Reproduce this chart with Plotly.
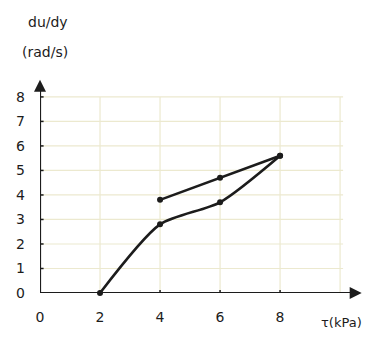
import plotly.graph_objects as go

# Data
load_x = [2, 4, 6, 8]
load_y = [0, 2.8, 3.7, 5.6]
unload_x = [4, 6, 8]
unload_y = [3.8, 4.7, 5.6]
x_ticks = [0, 2, 4, 6, 8]
x_tick_text = ["0", "2", "4", "6", "8"]
y_ticks = [0, 1, 2, 3, 4, 5, 6, 7, 8]
grid_x = [2, 4, 6, 8, 10]
grid_y = [1, 2, 3, 4, 5, 6, 7, 8]

GRID = "#ece9cf"
INK = "#1c1c1c"
FONT = "DejaVu Sans"

# plot-area pixel box (for placing margin labels)
PL, PR, PT, PB = 40, 362, 80, 293


def px_to_paper(px, py):
    return (px - PL) / (PR - PL), (PB - py) / (PB - PT)


fig = go.Figure()
fig.add_trace(go.Scatter(x=load_x, y=load_y, mode="lines+markers",
                         line=dict(color=INK, width=2.6, shape="spline", smoothing=0.7),
                         marker=dict(color=INK, size=6), cliponaxis=False, showlegend=False))
fig.add_trace(go.Scatter(x=unload_x, y=unload_y, mode="lines+markers",
                         line=dict(color=INK, width=2.6),
                         marker=dict(color=INK, size=6), cliponaxis=False, showlegend=False))

shapes = []
for gx in grid_x:
    shapes.append(dict(type="line", xref="x", yref="y", x0=gx, x1=gx, y0=0, y1=8,
                       line=dict(color=GRID, width=1.2), layer="below"))
for gy in grid_y:
    shapes.append(dict(type="line", xref="x", yref="y", x0=0, x1=10.1, y0=gy, y1=gy,
                       line=dict(color=GRID, width=1.2), layer="below"))
# axes
shapes.append(dict(type="line", xref="x", yref="y", x0=0, x1=0, y0=0, y1=8.4,
                   line=dict(color=INK, width=2.2)))
shapes.append(dict(type="line", xref="x", yref="y", x0=-0.1, x1=10.5, y0=0, y1=0,
                   line=dict(color=INK, width=2.2)))
# small tick marks
for ty in y_ticks:
    shapes.append(dict(type="line", xref="x", yref="y", x0=-0.12, x1=0.12, y0=ty, y1=ty,
                       line=dict(color=INK, width=1.5)))
for tx in x_ticks[1:]:
    shapes.append(dict(type="line", xref="x", yref="y", x0=tx, x1=tx, y0=-0.12, y1=0.12,
                       line=dict(color=INK, width=1.5)))

arrows = [
    dict(x=0, y=8.7, ax=0, ay=8.2, xref="x", yref="y", axref="x", ayref="y",
         showarrow=True, arrowhead=2, arrowsize=1.2, arrowwidth=2, arrowcolor=INK, text=""),
    dict(x=10.72, y=0, ax=10.3, ay=0, xref="x", yref="y", axref="x", ayref="y",
         showarrow=True, arrowhead=2, arrowsize=1.2, arrowwidth=2, arrowcolor=INK, text=""),
]

x1, y1 = px_to_paper(48, 22)
x2, y2 = px_to_paper(45, 52)
x3, y3 = px_to_paper(364, 322)
labels = [
    dict(x=x1, y=y1, xref="paper", yref="paper", text="du/dy", showarrow=False,
         xanchor="center", yanchor="middle", font=dict(size=14)),
    dict(x=x2, y=y2, xref="paper", yref="paper", text="(rad/s)", showarrow=False,
         xanchor="center", yanchor="middle", font=dict(size=14)),
    dict(x=x3, y=y3, xref="paper", yref="paper", text="τ(kPa)", showarrow=False,
         xanchor="right", yanchor="middle", font=dict(size=13)),
]

fig.update_layout(
    width=365, height=338,
    margin=dict(l=PL, r=365 - PR, t=PT, b=338 - PB),
    paper_bgcolor="white", plot_bgcolor="white",
    font=dict(family=FONT, size=13, color=INK),
    shapes=shapes,
    annotations=arrows + labels,
    xaxis=dict(range=[0, 10.73], showgrid=False, zeroline=False, showline=False,
               tickmode="array", tickvals=x_ticks, ticktext=x_tick_text,
               ticks="", ticklabelstandoff=14, tickfont=dict(size=14, family=FONT, color=INK)),
    yaxis=dict(range=[0, 8.69], showgrid=False, zeroline=False, showline=False,
               tickmode="array", tickvals=y_ticks,
               ticks="", ticklabelstandoff=14, tickfont=dict(size=14, family=FONT, color=INK)),
)

fig.write_html("out.html", config={"displayModeBar": False},
               post_script="document.body.style.margin='0';document.body.style.overflow='hidden';")
